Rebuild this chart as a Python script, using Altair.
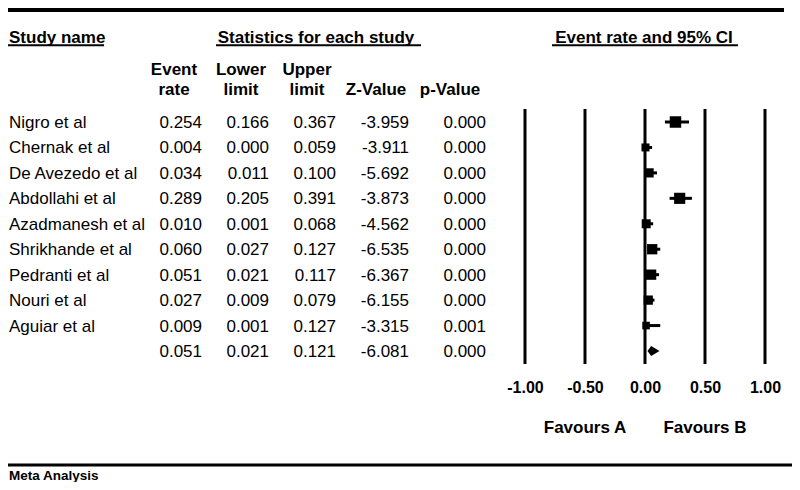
import altair as alt
import pandas as pd

# ---------------- data ----------------
studies = ["Nigro et al", "Chernak et al", "De Avezedo et al", "Abdollahi et al",
           "Azadmanesh et al", "Shrikhande et al", "Pedranti et al", "Nouri et al",
           "Aguiar et al"]
event_rate = [0.254, 0.004, 0.034, 0.289, 0.010, 0.060, 0.051, 0.027, 0.009]
lower_limit = [0.166, 0.000, 0.011, 0.205, 0.001, 0.027, 0.021, 0.009, 0.001]
upper_limit = [0.367, 0.059, 0.100, 0.391, 0.068, 0.127, 0.117, 0.079, 0.127]
z_value = [-3.959, -3.911, -5.692, -3.873, -4.562, -6.535, -6.367, -6.155, -3.315]
p_value = [0.000, 0.000, 0.000, 0.000, 0.000, 0.000, 0.000, 0.000, 0.001]
weight = [15.7, 7.6, 10.1, 14.8, 9.6, 12.6, 12.6, 10.2, 6.9]   # relative

summary_name = ""
summary_rate = 0.051
summary_lower = 0.021
summary_upper = 0.121
summary_z = -6.081
summary_p = 0.000

tick_values = [-1.0, -0.5, 0.0, 0.5, 1.0]
favours_labels = ["Favours A", "Favours B"]
favours_at = [-0.5, 0.5]

section_titles = ["Study name", "Statistics for each study", "Event rate and 95% CI"]
col_head_1 = ["Event", "Lower", "Upper", "", ""]
col_head_2 = ["rate", "limit", "limit", "Z-Value", "p-Value"]
col_fields = ["event_rate", "lower", "upper", "z", "p"]
footer = "Meta Analysis"

# ---------------- tables ----------------
n = len(studies)
table = pd.DataFrame({
    "row": list(range(n)) + [n],
    "name": studies + [summary_name],
    "event_rate": event_rate + [summary_rate],
    "lower": lower_limit + [summary_lower],
    "upper": upper_limit + [summary_upper],
    "z": z_value + [summary_z],
    "p": p_value + [summary_p],
})
for f in col_fields:
    table[f + "_txt"] = [f"{v:.3f}" for v in table[f]]

study_df = table.iloc[:n].copy()
study_df["weight"] = weight

DIAMOND_HALF = 0.2  # half height of summary diamond, in row units
diamond = pd.DataFrame({
    "x": [summary_lower, summary_rate, summary_upper],
    "y": [n, n - DIAMOND_HALF, n],
    "y2": [n, n + DIAMOND_HALF, n],
})
fav_df = pd.DataFrame({"label": favours_labels, "x": favours_at})
tick_df = pd.DataFrame({"x": tick_values})
one = pd.DataFrame({"k": [0]})

# ---------------- layout helpers ----------------
FONT = "Liberation Sans, Arial, sans-serif"
VX, VY = 525, 109  # reference-pixel position of view origin
VW, VH = 240, 251


def px(x):
    return x - VX


def py(y):
    return y - VY


xscale = alt.Scale(domain=[-1, 1], nice=False, zero=False)
xaxis = alt.Axis(values=tick_values,
                 labelExpr="(datum.value < 0 ? '-' : '') + format(abs(datum.value), '.2f')",
                 labelFont=FONT, labelFontSize=16,
                 labelFontWeight="bold", labelColor="black", labelFlush=False,
                 labelOverlap=False, labelPadding=19, ticks=False, tickSize=0,
                 domain=False, grid=False)
yscale = alt.Scale(domain=[0, n], range=[py(122), py(351)])


def X(field):
    return alt.X(f"{field}:Q", scale=xscale, axis=xaxis, title=None)


def Y(field):
    return alt.Y(f"{field}:Q", scale=yscale, axis=None)


layers = []

# vertical reference lines at the tick values (including the tick below the plot)
layers.append(alt.Chart(tick_df).mark_rule(color="black", strokeWidth=3).encode(
    x=X("x"), y=alt.value(0), y2=alt.value(py(364))))
# CI whiskers
layers.append(alt.Chart(study_df).mark_rule(color="black", strokeWidth=3).encode(
    x=X("lower"), x2="upper:Q", y=Y("row")))
# weight squares
layers.append(alt.Chart(study_df).mark_square(color="black", filled=True, opacity=1).encode(
    x=X("event_rate"), y=Y("row"),
    size=alt.Size("weight:Q", scale=alt.Scale(domain=[0, 20], range=[0, 168]), legend=None)))
# summary diamond
layers.append(alt.Chart(diamond).mark_area(color="black", opacity=1, orient="vertical").encode(
    x=X("x"), y=Y("y"), y2="y2:Q"))

# Favours labels
layers.append(alt.Chart(fav_df).mark_text(font=FONT, fontSize=17, fontWeight="bold",
                                          color="black", baseline="middle", align="center").encode(
    x=X("x"), y=alt.value(py(428)), text="label:N"))

# table: study names
layers.append(alt.Chart(table).mark_text(font=FONT, fontSize=17, color="black", align="left",
                                         baseline="alphabetic", dy=6).encode(
    x=alt.value(-516), y=Y("row"), text="name:N"))
# table: numeric columns (right aligned)
value_right = [202, 269, 336, 409, 486]
for field, xr in zip(col_fields, value_right):
    layers.append(alt.Chart(table).mark_text(font=FONT, fontSize=17, color="black", align="right",
                                             baseline="alphabetic", dy=6).encode(
        x=alt.value(px(xr)), y=Y("row"), text=f"{field}_txt:N"))

# section titles + underlines
title_pos = [(-516, "left"), (px(316), "center"), (px(644), "center")]
underline_span = [(-517, px(104)), (px(216), px(421)), (px(552), px(738))]
for t, (xt, al), (u1, u2) in zip(section_titles, title_pos, underline_span):
    layers.append(alt.Chart(pd.DataFrame({"t": [t]})).mark_text(
        font=FONT, fontSize=17, fontWeight="bold", color="black", align=al,
        baseline="alphabetic").encode(x=alt.value(xt), y=alt.value(py(43)), text="t:N"))
    layers.append(alt.Chart(one).mark_rule(color="black", strokeWidth=2).encode(
        x=alt.value(u1), x2=alt.value(u2), y=alt.value(py(45.3))))

# column headers
col_center = [174, 241, 307, 376, 450]
for h1, h2, xc in zip(col_head_1, col_head_2, col_center):
    for txt, yb in ((h1, 75), (h2, 95)):
        if txt:
            layers.append(alt.Chart(pd.DataFrame({"t": [txt]})).mark_text(
                font=FONT, fontSize=17, fontWeight="bold", color="black", align="center",
                baseline="alphabetic").encode(x=alt.value(px(xc)), y=alt.value(py(yb)), text="t:N"))

# top and bottom rules
layers.append(alt.Chart(one).mark_rule(color="black", strokeWidth=4).encode(
    x=alt.value(-517), x2=alt.value(px(784)), y=alt.value(py(10))))
layers.append(alt.Chart(one).mark_rule(color="black", strokeWidth=3).encode(
    x=alt.value(-517), x2=alt.value(px(792)), y=alt.value(py(465))))

# footer
layers.append(alt.Chart(pd.DataFrame({"t": [footer]})).mark_text(
    font=FONT, fontSize=13.5, fontWeight="bold", color="black", align="left",
    baseline="alphabetic").encode(x=alt.value(-516), y=alt.value(py(480)), text="t:N"))

chart = alt.layer(*layers).properties(
    width=VW, height=VH,
    padding={"left": 517, "top": 101, "right": 27, "bottom": 122},
    autosize=alt.AutoSizeParams(type="none"),
    background="white",
).configure_view(stroke=None)

chart.save("out.html", embed_options={"renderer": "svg", "actions": False})
